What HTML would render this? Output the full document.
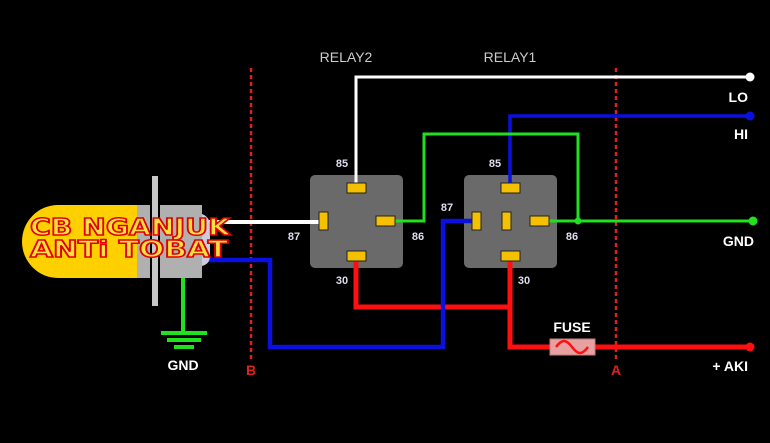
<!DOCTYPE html>
<html><head><style>body{margin:0;background:#000}svg{display:block}</style></head><body>
<svg width="770" height="443" viewBox="0 0 770 443" xmlns="http://www.w3.org/2000/svg" font-family="Liberation Sans, sans-serif">
<rect width="770" height="443" fill="#000"/>
<line x1="251" y1="68" x2="251" y2="362" stroke="#e02020" stroke-width="2.5" stroke-dasharray="4,3"/>
<line x1="616" y1="68" x2="616" y2="362" stroke="#e02020" stroke-width="2.5" stroke-dasharray="4,3"/>
<text x="251" y="375" fill="#e02020" font-size="14" font-weight="bold" text-anchor="middle">B</text>
<text x="616" y="375" fill="#e02020" font-size="14" font-weight="bold" text-anchor="middle">A</text>
<rect x="310" y="175" width="93" height="93" rx="5" fill="#6a6a6a"/>
<rect x="464" y="175" width="93" height="93" rx="5" fill="#6a6a6a"/>
<polyline points="205,222 322,222" fill="none" stroke="#fff" stroke-width="4"/>
<polyline points="356,185 356,77 750,77" fill="none" stroke="#fff" stroke-width="3"/>
<polyline points="510,185 510,116 750,116" fill="none" stroke="#0a10e0" stroke-width="3.5"/>
<polyline points="395,221 424,221 424,134 578,134 578,221" fill="none" stroke="#20e020" stroke-width="3"/>
<polyline points="549,221 753,221" fill="none" stroke="#20e020" stroke-width="3"/>
<circle cx="578" cy="221" r="3.5" fill="#20e020"/>
<polyline points="356,259 356,307 510,307" fill="none" stroke="#ff1010" stroke-width="5"/>
<polyline points="510,259 510,347 750,347" fill="none" stroke="#ff1010" stroke-width="5"/>
<polyline points="474,221 443,221 443,347 270,347 270,260 208,260" fill="none" stroke="#0a10e0" stroke-width="4.5"/>
<line x1="183" y1="258" x2="183" y2="333" stroke="#20e020" stroke-width="4"/>
<line x1="161" y1="333" x2="207" y2="333" stroke="#20e020" stroke-width="4"/>
<line x1="167" y1="340" x2="201" y2="340" stroke="#20e020" stroke-width="4"/>
<line x1="174" y1="347" x2="194" y2="347" stroke="#20e020" stroke-width="4"/>
<circle cx="750" cy="77" r="4.5" fill="#fff"/>
<circle cx="750" cy="116" r="4.5" fill="#0a10e0"/>
<circle cx="753" cy="221" r="4.5" fill="#20e020"/>
<circle cx="750" cy="347" r="4.5" fill="#ff1010"/>
<rect x="550" y="339" width="45" height="16" fill="#e8a0a0" stroke="#c08080"/>
<path d="M556,347 c6,-8 10,-8 16,0 c6,8 10,8 16,0" fill="none" stroke="#ff1010" stroke-width="2.5"/>
<text x="572" y="332" fill="#fff" font-size="14" font-weight="bold" text-anchor="middle">FUSE</text>
<g fill="#f5c000" stroke="#222" stroke-width="1">
<rect x="347" y="183" width="19" height="10"/><rect x="319" y="212" width="9" height="18"/>
<rect x="376" y="216" width="19" height="10"/><rect x="347" y="251" width="19" height="10"/>
<rect x="501" y="183" width="19" height="10"/><rect x="472" y="212" width="9" height="18"/>
<rect x="502" y="212" width="9" height="18"/><rect x="530" y="216" width="19" height="10"/>
<rect x="501" y="251" width="19" height="10"/>
</g>
<g fill="#dde" font-size="11" font-weight="bold" text-anchor="middle">
<text x="342" y="167">85</text><text x="294" y="240">87</text><text x="418" y="240">86</text><text x="342" y="284">30</text>
<text x="495" y="167">85</text><text x="447" y="211">87</text><text x="572" y="240">86</text><text x="524" y="284">30</text>
</g>
<g fill="#ccc" font-size="14" text-anchor="middle">
<text x="346" y="62">RELAY2</text><text x="510" y="62">RELAY1</text>
</g>
<g fill="#fff" font-size="14" font-weight="bold" text-anchor="end">
<text x="748" y="102">LO</text><text x="748" y="139">HI</text><text x="754" y="246">GND</text><text x="748" y="371">+ AKI</text>
</g>
<text x="183" y="370" fill="#fff" font-size="14" font-weight="bold" text-anchor="middle">GND</text>
<path d="M137,205 L58,205 A36,36.5 0 0 0 58,278 L137,278 Z" fill="#ffd000"/>
<rect x="137" y="205" width="13" height="73" fill="#b0b0b0"/>
<rect x="152" y="176" width="6" height="130" fill="#c8c8c8"/>
<rect x="160" y="205" width="42" height="73" fill="#b0b0b0"/>
<path d="M202,214 q8,3 8,12 v30 q0,8 -8,10 z" fill="#ccd"/>
<g font-family="DejaVu Sans, sans-serif" font-weight="bold" fill="#ffe040" stroke="#e00000" stroke-width="1.5" font-size="23">
<text x="30" y="235" textLength="200" lengthAdjust="spacingAndGlyphs">CB NGANJUK</text>
<text x="30" y="257" textLength="198" lengthAdjust="spacingAndGlyphs">ANTi TOBAT</text>
</g>
</svg>
</body></html>
